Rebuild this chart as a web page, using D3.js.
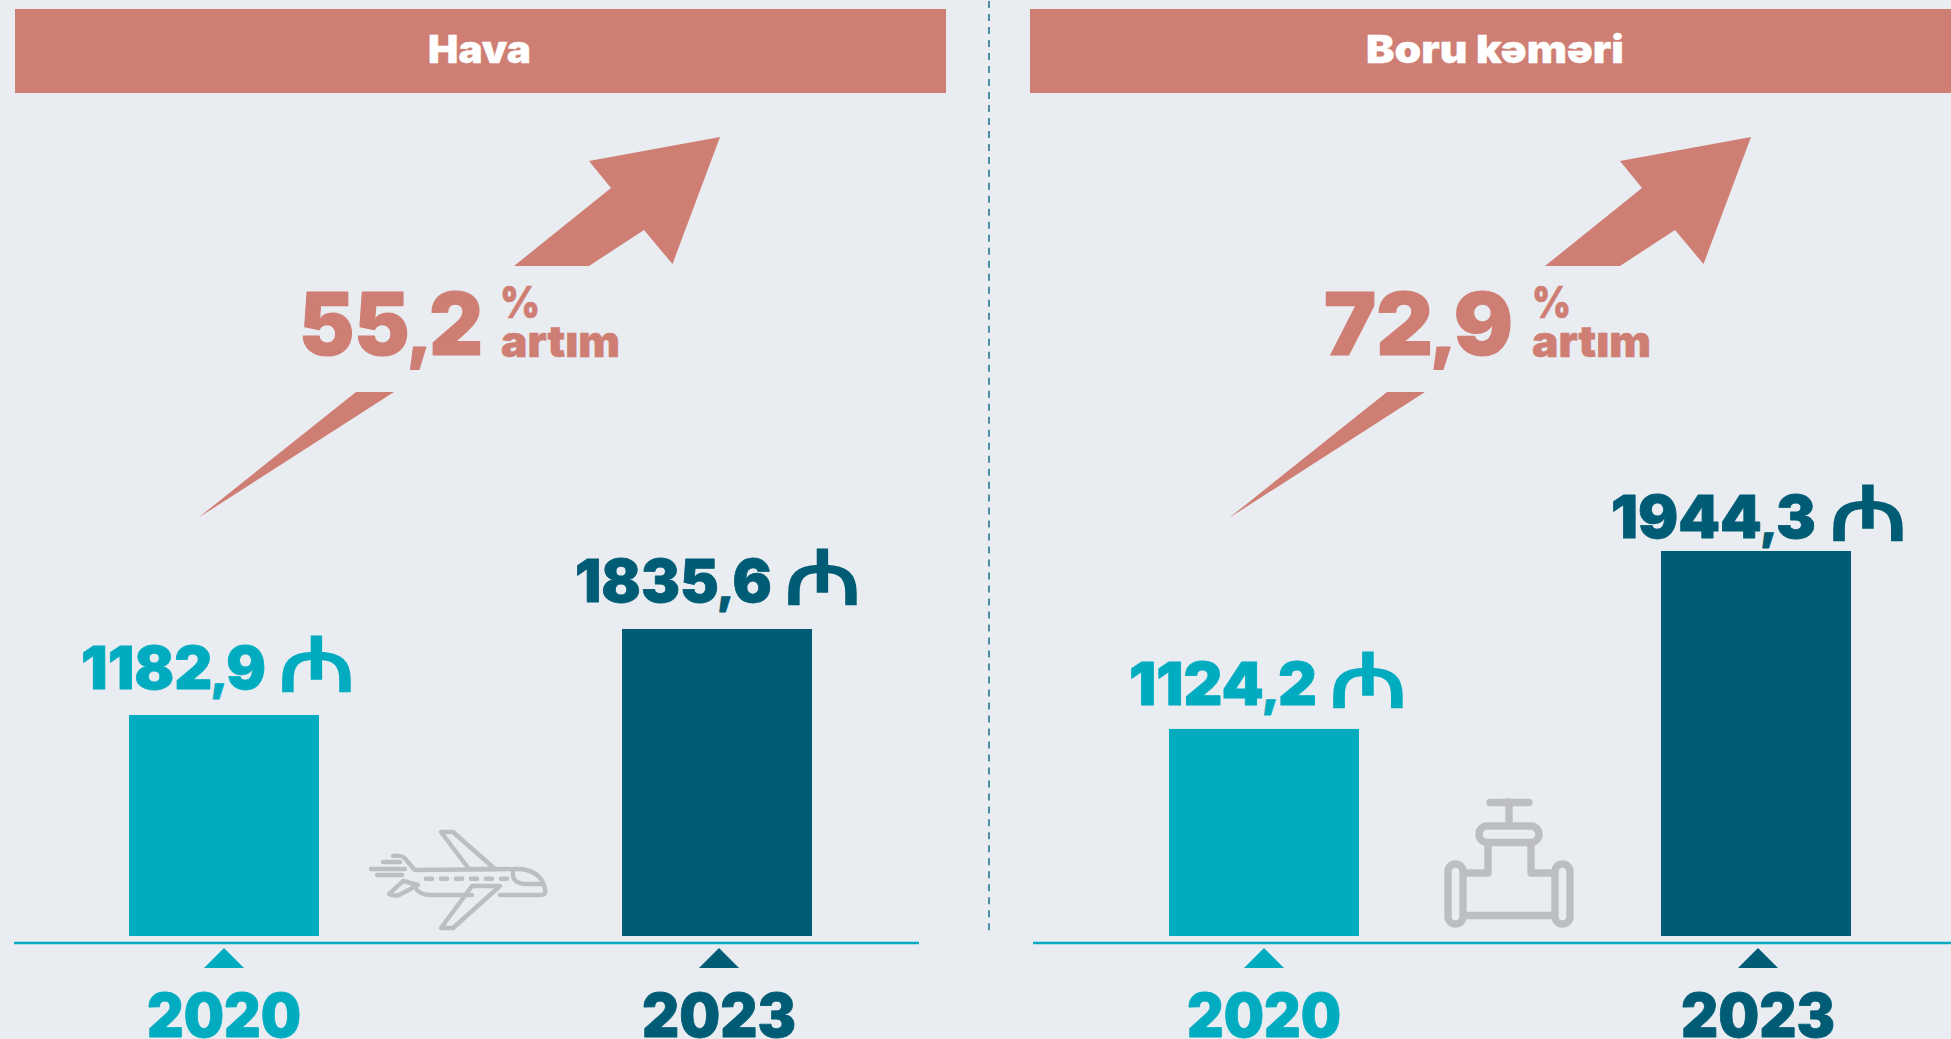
<!DOCTYPE html>
<html>
<head>
<meta charset="utf-8">
<script src="https://d3js.org/d3.v7.min.js"></script>
<style>
  html, body { margin: 0; padding: 0; background: #e9edf2; overflow: hidden; }
  text { font-family: Inter, "Open Sans", sans-serif; font-weight: 900; }
</style>
</head>
<body>
<div id="chart"></div>
<script>
var width = 1951, height = 1039;

// values
var panels = ["Hava", "Boru kəməri"];
var years = ["2020", "2023"];
var havaValues = [1182.9, 1835.6];
var boruValues = [1124.2, 1944.3];
var growthLabels = ["55,2", "72,9"];
// the bars in the source are not to a zero base, so each panel has its own domain
var havaDomain = [-494, 1835.6];
var boruDomain = [170, 1944.3];

var bg = "#e9edf2", salmon = "#cf7e74", teal = "#02acc0", dark = "#005c75", grey = "#bdbec2";
var yearColor = d3.scaleOrdinal().domain(years).range([teal, dark]);

var svg = d3.select("#chart").append("svg")
    .attr("width", width)
    .attr("height", height);

svg.append("rect").attr("width", width).attr("height", height).attr("fill", bg);

// dashed divider between the two panels
svg.append("line")
    .attr("x1", 989).attr("x2", 989)
    .attr("y1", 1).attr("y2", 931)
    .attr("stroke", "#4b8fa3")
    .attr("stroke-width", 2)
    .attr("stroke-dasharray", "7 5.99");

var layout = [
    { name: panels[0], values: havaValues, domain: havaDomain, growth: growthLabels[0],
      head: [15, 946], titleX: [428, 531], axis: [14, 919], left: 129, right: 812, topPx: 307,
      arrowDx: 0, growthX: [299, 483], pctX: [500, 540], artimX: [501, 620],
      labels: [[81, 266, 281, 353, 689], [575, 772, 787, 859, 602]], ticks: [224, 719] },
    { name: panels[1], values: boruValues, domain: boruDomain, growth: growthLabels[1],
      head: [1030, 1951], titleX: [1366, 1624], axis: [1033, 1951], left: 1169, right: 1851, topPx: 385,
      arrowDx: 1031, growthX: [1324, 1513], pctX: [1532, 1571], artimX: [1532, 1651],
      labels: [[1129, 1317, 1332, 1405, 705], [1611, 1816, 1832, 1905, 537.5]], ticks: [1264, 1758] }
];

var barWidth = 190, baseY = 936;

// text squeezed to the measured box, since the original font is not installed
function fitText(g, str, x0, x1, y, size, fill, thick) {
    var t = g.append("text")
        .attr("x", x0)
        .attr("y", y)
        .attr("textLength", x1 - x0)
        .attr("lengthAdjust", "spacingAndGlyphs")
        .attr("font-size", size)
        .attr("fill", fill);
    if (thick) t.attr("stroke", fill).attr("stroke-width", thick).attr("stroke-linejoin", "round");
    // Inter's comma is long and sits far out, use a smaller one closer in
    var parts = str.split(",");
    if (parts.length == 2) {
        t.append("tspan").text(parts[0]);
        t.append("tspan").attr("font-size", "0.8em").attr("dx", "-0.04em").text(",");
        t.append("tspan").attr("dx", "-0.03em").text(parts[1]);
    } else {
        t.text(str);
    }
    return t;
}

layout.forEach(function (p) {
    var g = svg.append("g").attr("class", "panel");
    var y = d3.scaleLinear().domain(p.domain).range([baseY, baseY - p.topPx]);
    var xPos = d3.scaleOrdinal().domain(years).range([p.left, p.right - barWidth]);

    g.append("rect")
        .attr("x", p.head[0]).attr("y", 9)
        .attr("width", p.head[1] - p.head[0]).attr("height", 84)
        .attr("fill", salmon);
    fitText(g, p.name, p.titleX[0], p.titleX[1], 63, 38.5, "#fff", 0.3);

    // growth arrow, split in two around the percentage
    var a = g.append("g").attr("transform", "translate(" + p.arrowDx + ",0)").attr("fill", salmon);
    a.append("path").attr("d", "M720 137L589 161L611 188L514 266L589 266L644 230L672.5 264Z");
    a.append("path").attr("d", "M356 392L394 392L198 518Z");

    fitText(g, p.growth, p.growthX[0], p.growthX[1], 355, 86, salmon, 1.2);
    fitText(g, "%", p.pctX[0], p.pctX[1], 318, 44, salmon, 0.5);
    fitText(g, "artım", p.artimX[0], p.artimX[1], 357, 43, salmon, 0.5);

    // bars
    g.selectAll("rect.bar")
        .data(p.values)
        .enter().append("rect")
        .attr("class", "bar")
        .attr("x", function (d, i) { return xPos(years[i]); })
        .attr("y", function (d) { return y(d); })
        .attr("width", barWidth)
        .attr("height", function (d) { return baseY - y(d); })
        .attr("fill", function (d, i) { return yearColor(years[i]); });

    // value labels
    p.values.forEach(function (v, i) {
        var b = p.labels[i], c = yearColor(years[i]);
        fitText(g, String(v).replace(".", ","), b[0], b[1], b[4], 59, c, 0.8);
        fitText(g, "₼", b[2] - 3, b[3] + 3, b[4] + 2, 76, c)
            .style("font-family", "'DejaVu Sans'")
            .style("font-weight", 700);
    });

    // base line, ticks and years
    g.append("line")
        .attr("x1", p.axis[0]).attr("x2", p.axis[1])
        .attr("y1", 943).attr("y2", 943)
        .attr("stroke", teal).attr("stroke-width", 2.4);
    years.forEach(function (yr, i) {
        var cx = p.ticks[i], c = yearColor(yr);
        g.append("path")
            .attr("d", d3.line()([[cx, 948], [cx + 20, 968], [cx - 20, 968]]) + "Z")
            .attr("fill", c);
        fitText(g, yr, cx - 77, cx + 77, 1037, 60, c, 0.8);
    });
});

// plane icon
var plane = svg.append("g").attr("fill", "none").attr("stroke", grey).attr("stroke-width", 4.4)
    .attr("stroke-linecap", "round").attr("stroke-linejoin", "round");
plane.append("path").attr("d", "M441 832L453 832L495 869L469 869Z");
plane.append("path").attr("d", "M441 928L453 928L500 886L472 886Z");
plane.append("path").attr("d", "M393 856C400 855 404 856 407 861L413 868Q414 870 417 870L517 869C532 869 543 876 545 889C546 894 544 895 540 895L500 895M472 895L430 895C424 895 420 893 417 890");
plane.append("path").attr("d", "M513 871C512 880 516 884 528 884L542 884");
plane.append("path").attr("d", "M403 881L418 885L399 895C395 896 391 895 389 894L402 882");
plane.append("path").attr("d", "M371 869L405 869M383 862L400 862M377 875L402 875");
plane.append("path").attr("d", "M426 878.7L508 878.7").attr("stroke-width", 4.6).attr("stroke-dasharray", "6 9");

// pipe valve icon
var pipe = svg.append("g").attr("fill", "none").attr("stroke", grey).attr("stroke-width", 7.4)
    .attr("stroke-linecap", "round").attr("stroke-linejoin", "round");
pipe.append("path").attr("d", "M1490 802.5L1529 802.5");
pipe.append("path").attr("d", "M1509 802L1509 824");
pipe.append("rect").attr("x", 1479).attr("y", 826).attr("width", 60).attr("height", 16.5).attr("rx", 8.2);
pipe.append("path").attr("d", "M1488 846L1488 873L1466 873M1531 846L1531 873L1552 873M1466 915.5L1552 915.5");
pipe.append("rect").attr("x", 1448).attr("y", 864).attr("width", 15).attr("height", 60).attr("rx", 7.5);
pipe.append("rect").attr("x", 1555).attr("y", 864).attr("width", 15).attr("height", 60).attr("rx", 7.5);
</script>
</body>
</html>
